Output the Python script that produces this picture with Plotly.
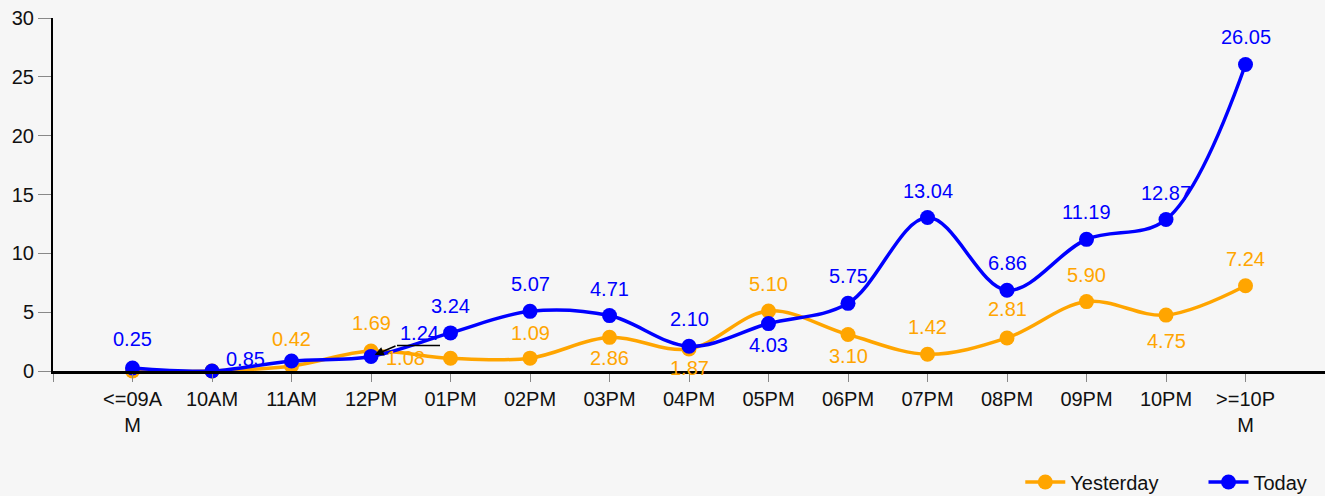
import plotly.graph_objects as go

categories = ["<=09AM", "10AM", "11AM", "12PM", "01PM", "02PM", "03PM", "04PM",
              "05PM", "06PM", "07PM", "08PM", "09PM", "10PM", ">=10PM"]
tick_labels = ["<=09A<br>M", "10AM", "11AM", "12PM", "01PM", "02PM", "03PM", "04PM",
               "05PM", "06PM", "07PM", "08PM", "09PM", "10PM", ">=10P<br>M"]
series_names = ["Yesterday", "Today"]
yesterday = [0.0, 0.0, 0.42, 1.69, 1.08, 1.09, 2.86, 1.87, 5.10, 3.10, 1.42, 2.81, 5.90, 4.75, 7.24]
today = [0.25, 0.0, 0.85, 1.24, 3.24, 5.07, 4.71, 2.10, 4.03, 5.75, 13.04, 6.86, 11.19, 12.87, 26.05]

ORANGE = "#FFA500"
BLUE = "#0000FF"
FONT = "Liberation Sans, Arial, sans-serif"

# label placement styles (xshift, yshift) in px; None = no label
T, B = (0, 27), (0, -21)
y_label_pos = [None, None, T, (0, 28), (-45, 0), (0, 25), B, (0, -19), T, B, T, (0, 29), T, (0, -26), T]
t_label_pos = [(0, 29), None, (-46, 2), (48, 23), T, T, T, T, B, T, T, T, T, T, T]

x = list(range(len(categories)))

fig = go.Figure()
fig.add_trace(go.Scatter(
    x=x, y=yesterday, name=series_names[0] + "\u2003\u2003", mode="lines+markers",
    line=dict(color=ORANGE, width=3.5, shape="spline", smoothing=1),
    marker=dict(color=ORANGE, size=15), cliponaxis=False))
fig.add_trace(go.Scatter(
    x=x, y=today, name=series_names[1], mode="lines+markers",
    line=dict(color=BLUE, width=3.5, shape="spline", smoothing=1),
    marker=dict(color=BLUE, size=15), cliponaxis=False))

annotations = []
for vals, pos, col in ((yesterday, y_label_pos, ORANGE), (today, t_label_pos, BLUE)):
    for i, (v, p) in enumerate(zip(vals, pos)):
        if p is None:
            continue
        annotations.append(dict(
            x=x[i], y=v, xref="x", yref="y", text=f"{v:.2f}", showarrow=False,
            xshift=p[0], yshift=p[1], xanchor="center", yanchor="middle",
            font=dict(family=FONT, size=20, color=col)))

# leader line + arrow for the 12PM "Today" label
annotations.append(dict(
    x=x[3], y=today[3], xref="x", yref="y", text="", showarrow=True,
    ax=26, ay=-11, axref="pixel", ayref="pixel", arrowhead=2, arrowsize=1.2,
    arrowwidth=1.5, arrowcolor="black", standoff=4))
shapes = [dict(type="line", xref="x", yref="y", xsizemode="pixel", ysizemode="pixel",
               xanchor=x[3], yanchor=today[3], x0=26, x1=69, y0=11, y1=11,
               line=dict(color="black", width=1.5))]

fig.update_layout(
    width=1325, height=496,
    margin=dict(l=53, r=0, t=18, b=125),
    paper_bgcolor="#f6f6f6", plot_bgcolor="#f6f6f6",
    font=dict(family=FONT, size=20, color="#111"),
    showlegend=True,
    legend=dict(orientation="h", x=0.99, xanchor="right",
                yref="container", y=(496 - 482) / 496, yanchor="middle",
                font=dict(family=FONT, size=20, color="#111"), bgcolor="rgba(0,0,0,0)",
                traceorder="normal", itemwidth=40),
    annotations=annotations,
    shapes=shapes,
)
fig.update_xaxes(
    range=[-1, 15], tickmode="array", tickvals=[-1] + x, ticktext=[""] + tick_labels,
    showline=True, linecolor="black", linewidth=2.5, ticks="outside", ticklen=8,
    tickcolor="#888", tickwidth=1, showgrid=False, zeroline=False,
    tickfont=dict(family=FONT, size=20, color="#111"))
fig.update_yaxes(
    range=[0, 30], tickmode="linear", tick0=0, dtick=5,
    showline=True, linecolor="black", linewidth=2, ticks="outside", ticklen=13,
    tickcolor="#888", tickwidth=1, showgrid=False, zeroline=False,
    tickfont=dict(family=FONT, size=20, color="#111"))

fig.write_html("out.html", config={"displayModeBar": False},
               post_script="document.body.style.margin='0';document.body.style.overflow='hidden';")
